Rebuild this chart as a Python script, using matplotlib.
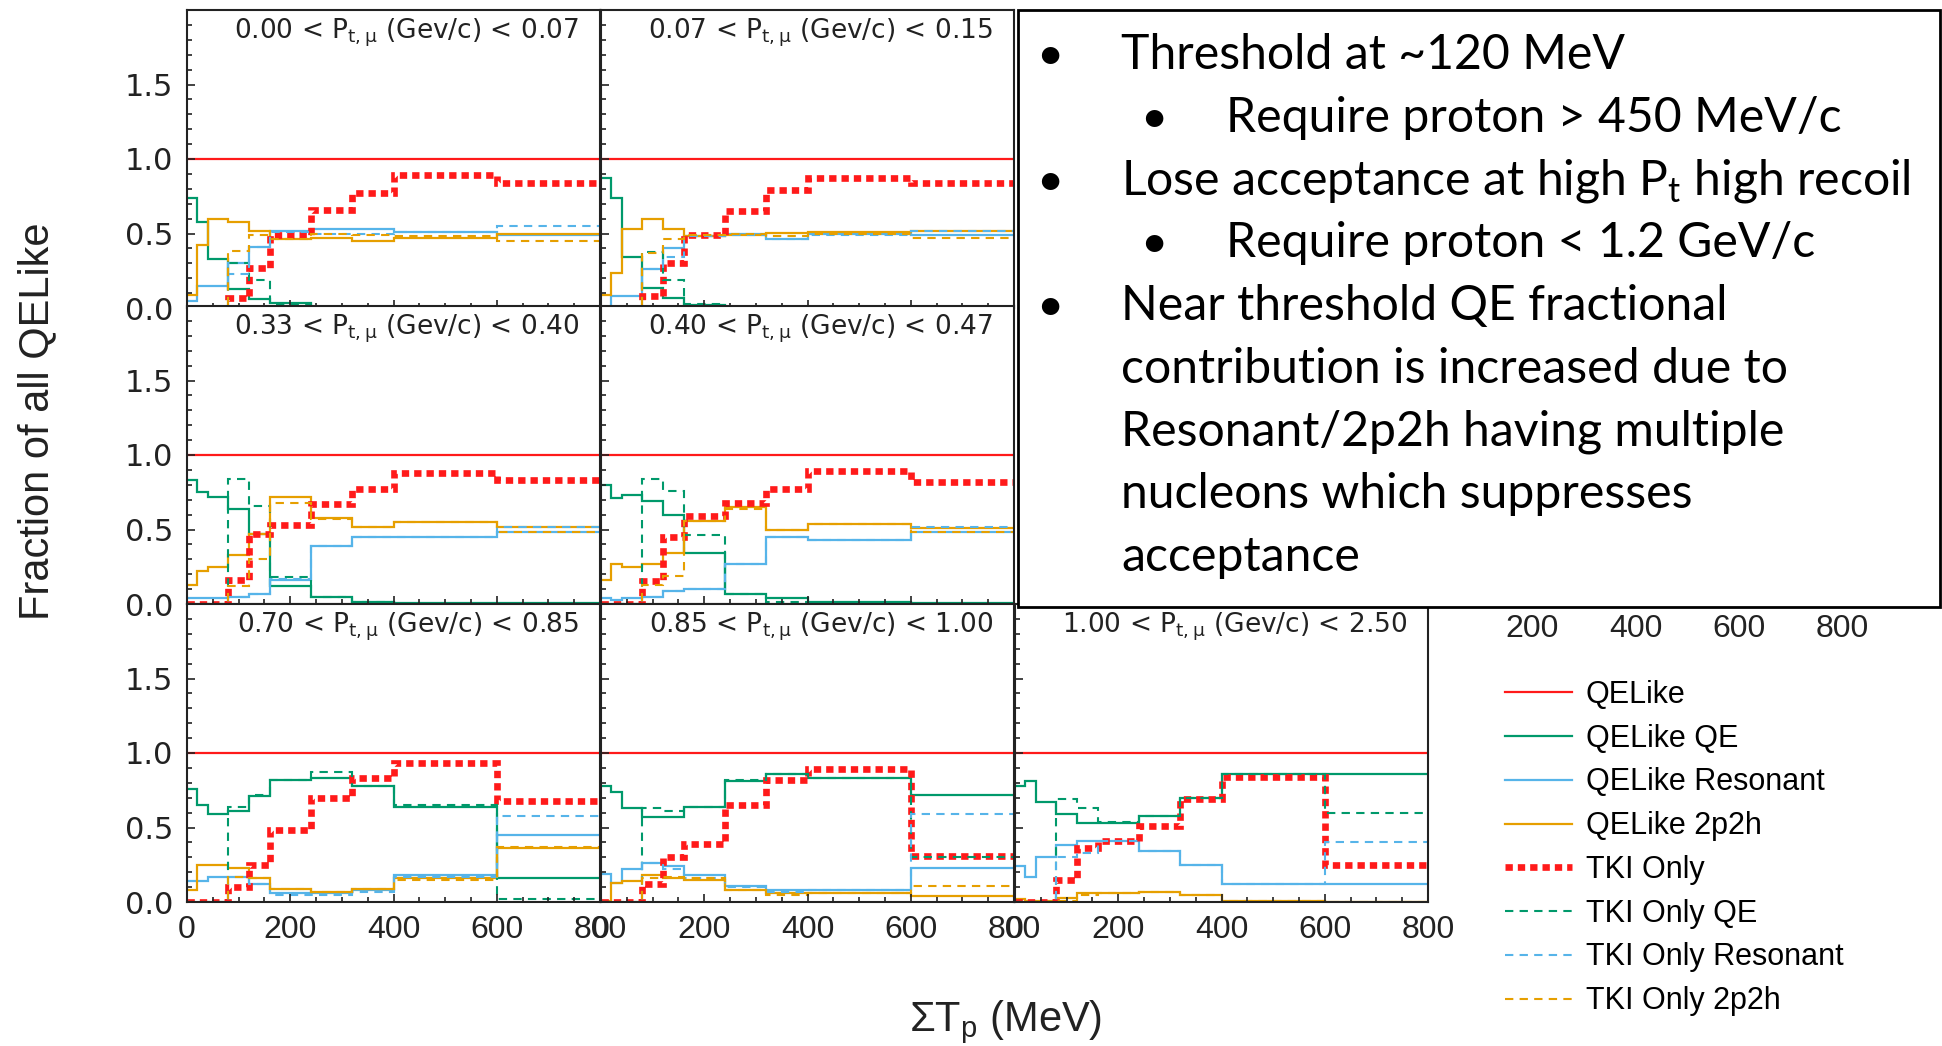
import numpy as np
import matplotlib.pyplot as plt
from matplotlib.patches import Rectangle
from matplotlib.lines import Line2D
from matplotlib.ticker import MultipleLocator

plt.rcParams['font.family'] = ['Liberation Sans', 'DejaVu Sans']
plt.rcParams['mathtext.default'] = 'regular'

# sum of proton kinetic energy bins (MeV)
edges = [0, 20, 40, 80, 120, 160, 240, 320, 400, 600, 800]

pt_low = ["0.00", "0.07", "0.33", "0.40", "0.70", "0.85", "1.00"]
pt_high = ["0.07", "0.15", "0.40", "0.47", "0.85", "1.00", "2.50"]
# (column, row) of each Pt bin on the 4x3 canvas
slots = [(0, 0), (1, 0), (0, 1), (1, 1), (0, 2), (1, 2), (2, 2)]

qelike = [1.0] * 10

qelike_qe = [
    [0.74, 0.58, 0.33, 0.125, 0.06, 0.035, 0.0, 0.0, 0.0, 0.0],
    [0.875, 0.74, 0.34, 0.136, 0.07, 0.02, 0.0, 0.0, 0.0, 0.0],
    [0.83, 0.75, 0.72, 0.64, 0.47, 0.12, 0.05, 0.015, 0.005, 0.005],
    [0.80, 0.71, 0.73, 0.69, 0.60, 0.34, 0.07, 0.04, 0.015, 0.005],
    [0.76, 0.65, 0.59, 0.61, 0.71, 0.82, 0.83, 0.78, 0.64, 0.16],
    [0.78, 0.74, 0.63, 0.57, 0.57, 0.64, 0.81, 0.86, 0.83, 0.72],
    [0.78, 0.81, 0.67, 0.59, 0.53, 0.53, 0.58, 0.70, 0.86, 0.86],
]
qelike_res = [
    [0.045, 0.15, 0.15, 0.30, 0.41, 0.52, 0.53, 0.53, 0.51, 0.49],
    [0.01, 0.08, 0.08, 0.26, 0.40, 0.48, 0.50, 0.46, 0.50, 0.49],
    [0.04, 0.04, 0.04, 0.05, 0.07, 0.16, 0.39, 0.45, 0.45, 0.48],
    [0.04, 0.03, 0.04, 0.05, 0.09, 0.10, 0.27, 0.45, 0.43, 0.48],
    [0.14, 0.14, 0.17, 0.17, 0.12, 0.06, 0.06, 0.08, 0.18, 0.45],
    [0.19, 0.13, 0.22, 0.26, 0.24, 0.18, 0.11, 0.08, 0.08, 0.23],
    [0.24, 0.17, 0.30, 0.38, 0.41, 0.41, 0.34, 0.25, 0.12, 0.12],
]
qelike_2p2h = [
    [0.09, 0.425, 0.60, 0.58, 0.52, 0.46, 0.47, 0.45, 0.47, 0.50],
    [0.09, 0.235, 0.53, 0.60, 0.53, 0.48, 0.49, 0.505, 0.51, 0.52],
    [0.13, 0.22, 0.25, 0.33, 0.47, 0.72, 0.58, 0.52, 0.55, 0.52],
    [0.16, 0.27, 0.25, 0.27, 0.34, 0.56, 0.65, 0.50, 0.54, 0.51],
    [0.08, 0.25, 0.25, 0.23, 0.16, 0.09, 0.07, 0.09, 0.16, 0.36],
    [0.01, 0.13, 0.14, 0.18, 0.16, 0.15, 0.08, 0.06, 0.06, 0.04],
    [0.02, 0.01, 0.01, 0.03, 0.06, 0.06, 0.065, 0.05, 0.01, 0.0],
]
tki_only = [
    [0, 0, 0, 0.07, 0.27, 0.49, 0.66, 0.77, 0.89, 0.84],
    [0, 0, 0, 0.08, 0.30, 0.49, 0.65, 0.79, 0.875, 0.84],
    [0, 0, 0, 0.16, 0.47, 0.53, 0.67, 0.77, 0.88, 0.83],
    [0, 0, 0, 0.155, 0.45, 0.59, 0.68, 0.77, 0.89, 0.82],
    [0, 0, 0, 0.10, 0.25, 0.48, 0.70, 0.83, 0.93, 0.68],
    [0, 0, 0, 0.12, 0.30, 0.39, 0.65, 0.82, 0.89, 0.31],
    [0, 0, 0, 0.15, 0.36, 0.41, 0.51, 0.69, 0.84, 0.25],
]
tki_qe = [
    [0, 0, 0, 0.30, 0.19, 0.03, 0, 0, 0, 0],
    [0, 0, 0, 0.375, 0.19, 0.03, 0, 0, 0, 0],
    [0, 0, 0, 0.84, 0.66, 0.18, 0.05, 0.015, 0, 0],
    [0, 0, 0, 0.84, 0.76, 0.46, 0.07, 0.015, 0.01, 0],
    [0, 0, 0, 0.64, 0.72, 0.82, 0.87, 0.78, 0.65, 0.02],
    [0, 0, 0, 0.63, 0.61, 0.64, 0.82, 0.86, 0.83, 0.30],
    [0, 0, 0, 0.69, 0.63, 0.54, 0.58, 0.70, 0.86, 0.60],
]
tki_res = [
    [0, 0, 0, 0.23, 0.41, 0.51, 0.50, 0.50, 0.51, 0.55],
    [0, 0, 0, 0.26, 0.34, 0.48, 0.49, 0.46, 0.49, 0.52],
    [0, 0, 0, 0.05, 0.07, 0.17, 0.39, 0.45, 0.45, 0.52],
    [0, 0, 0, 0.05, 0.09, 0.10, 0.27, 0.45, 0.43, 0.52],
    [0, 0, 0, 0.17, 0.12, 0.05, 0.05, 0.07, 0.17, 0.58],
    [0, 0, 0, 0.26, 0.22, 0.16, 0.10, 0.07, 0.08, 0.59],
    [0, 0, 0, 0.30, 0.33, 0.41, 0.34, 0.25, 0.12, 0.40],
]
tki_2p2h = [
    [0, 0, 0, 0.38, 0.49, 0.46, 0.50, 0.49, 0.48, 0.45],
    [0, 0, 0, 0.37, 0.46, 0.49, 0.50, 0.48, 0.50, 0.47],
    [0, 0, 0, 0.12, 0.30, 0.68, 0.57, 0.52, 0.55, 0.48],
    [0, 0, 0, 0.13, 0.19, 0.56, 0.64, 0.50, 0.54, 0.48],
    [0, 0, 0, 0.17, 0.16, 0.09, 0.07, 0.09, 0.15, 0.37],
    [0, 0, 0, 0.16, 0.17, 0.16, 0.08, 0.05, 0.06, 0.11],
    [0, 0, 0, 0.01, 0.05, 0.06, 0.07, 0.05, 0.01, 0.0],
]

labels = ["QELike", "QELike QE", "QELike Resonant", "QELike 2p2h",
          "TKI Only", "TKI Only QE", "TKI Only Resonant", "TKI Only 2p2h"]

red, green, blue, orange = "#ff1a1a", "#00996b", "#56b4e9", "#e69f00"
solid = dict(lw=1.6, linestyle="-")
dashed = dict(lw=1.5, linestyle=(0, (4, 3)))
dotted = dict(lw=4.8, linestyle=(0, (1.1, 0.75)))
styles = [(red, solid), (green, solid), (blue, solid), (orange, solid),
          (red, dotted), (green, dashed), (blue, dashed), (orange, dashed)]

notes = [
    (0, "Threshold at ~120 MeV"),
    (1, "Require proton > 450 MeV/c"),
    (0, "Lose acceptance at high P$_t$ high recoil"),
    (1, "Require proton < 1.2 GeV/c"),
    (0, "Near threshold QE fractional"),
    (None, "contribution is increased due to"),
    (None, "Resonant/2p2h having multiple"),
    (None, "nucleons which suppresses"),
    (None, "acceptance"),
]

W, H = 1942, 1046
fig = plt.figure(figsize=(W / 100, H / 100), dpi=100)

col_x = [187, 601, 1015, 1429]
row_top = [10, 306, 604]
pw, ph = 413, 298
e_ticks = [0, 200, 400, 600, 800]


def add_panel(col, row):
    x0, y0 = col_x[col], row_top[row]
    return fig.add_axes([x0 / W, 1 - (y0 + ph) / H, pw / W, ph / H])


def style_axes(ax, col, row):
    ax.set_xlim(0, 800)
    ax.set_ylim(0, 2.0)
    ax.set_xticks(e_ticks)
    ax.xaxis.set_minor_locator(MultipleLocator(50))
    ax.set_yticks([0, 0.5, 1.0, 1.5])
    ax.yaxis.set_minor_locator(MultipleLocator(0.1))
    ax.tick_params(which="both", direction="in", top=False, right=False,
                   width=1.2, colors="#222222")
    ax.tick_params(which="major", length=6)
    ax.tick_params(which="minor", length=3.5)
    ax.tick_params(axis="x", pad=9, labelsize=23)
    ax.tick_params(axis="y", pad=10, labelsize=22)
    for s in ax.spines.values():
        s.set_linewidth(1.5)
        s.set_color("#222222")
    if col == 0:
        ax.set_yticklabels(["0.0", "0.5", "1.0", "1.5"], family="DejaVu Sans")
    else:
        ax.set_yticklabels([])
    if row == 2:
        ax.set_xticklabels([str(t) for t in e_ticks])
    else:
        ax.set_xticklabels([])


handles = []
for i, (col, row) in enumerate(slots):
    ax = add_panel(col, row)
    style_axes(ax, col, row)
    series = [qelike, qelike_qe[i], qelike_res[i], qelike_2p2h[i],
              tki_only[i], tki_qe[i], tki_res[i], tki_2p2h[i]]
    for vals, (c, st), lab in zip(series, styles, labels):
        ax.stairs(vals, edges, baseline=None, color=c, label=lab, **st)
    ax.text(0.95, 0.905, f"{pt_low[i]} < P$_{{t,μ}}$ (Gev/c) < {pt_high[i]}",
            transform=ax.transAxes, ha="right", va="baseline",
            fontsize=19, family="DejaVu Sans", color="#222222")
    if i == 0:
        handles = [Line2D([], [], color=c, **st) for c, st in styles]

# panel behind the notes box: only its energy labels peek out below it
ghost = add_panel(3, 1)
ghost.set_xlim(0, 800)
ghost.set_frame_on(False)
ghost.set_yticks([])
ghost.set_xticks(e_ticks[1:])
ghost.set_xticklabels([str(t) for t in e_ticks[1:]])
ghost.tick_params(axis="x", length=0, pad=7, labelsize=23, colors="#222222")

# notes box
fig.add_artist(Rectangle((1018 / W, 1 - 607 / H), 922 / W, 597 / H,
                         transform=fig.transFigure, facecolor="white",
                         edgecolor="black", lw=2, zorder=2))
bullet_x = [1050, 1154]
text_x = [1121, 1226]
for k, (lvl, line) in enumerate(notes):
    yb = 1 - (69 + 62.75 * k) / H
    tx = text_x[0] if lvl is None else text_x[lvl]
    if lvl is not None:
        fig.text(bullet_x[lvl] / W, yb, "•", ha="center", va="baseline",
                 fontsize=34, family="Lato", color="black", zorder=3)
    fig.text(tx / W, yb, line, ha="left", va="baseline",
             fontsize=34.7, family="Lato", color="black", zorder=3)

fig.text(37 / W, 1 - 421 / H, "Fraction of all QELike", rotation=90,
         ha="center", va="center", fontsize=30,
         family=["Liberation Sans Narrow", "Liberation Sans"], color="#222222")
fig.text(1006 / W, 1 - 1022 / H, "ΣT$_p$ (MeV)", ha="center", va="center",
         fontsize=30, family=["Liberation Sans Narrow", "Liberation Sans"],
         color="#222222")

fig.legend(handles, labels, loc="upper left",
           bbox_to_anchor=(1505 / W, 1 - 680 / H), frameon=False,
           fontsize=22, handlelength=2.2, handletextpad=0.45,
           labelspacing=0.45, borderaxespad=0, borderpad=0)

fig.savefig("out.png", dpi=100, facecolor="white")
